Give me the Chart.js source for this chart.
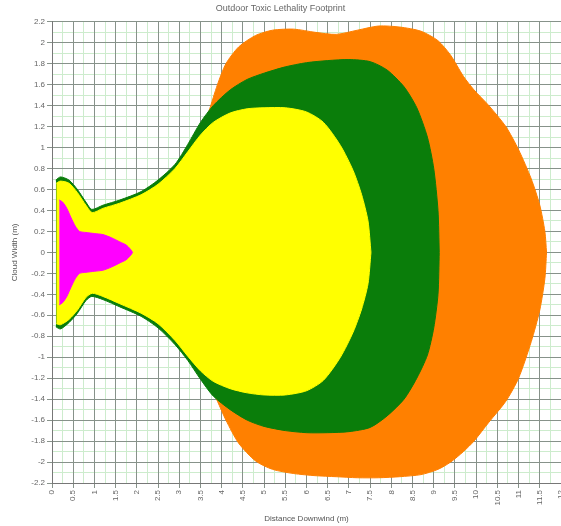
<!DOCTYPE html>
<html>
<head>
<meta charset="utf-8">
<script src="https://cdn.jsdelivr.net/npm/chart.js@4.4.0/dist/chart.umd.min.js"></script>
<style>
  html, body { margin: 0; padding: 0; background: #fff; overflow: hidden; }
  #wrap { width: 561px; height: 526px; }
</style>
</head>
<body>
<div id="wrap"><canvas id="chart" width="561" height="526"></canvas></div>
<script>
const chartTitle = "Outdoor Toxic Lethality Footprint";
const xTitle = "Distance Downwind (m)";
const yTitle = "Cloud Width (m)";

// tick values along each axis
const xTickValues = [0, 0.5, 1, 1.5, 2, 2.5, 3, 3.5, 4, 4.5, 5, 5.5, 6, 6.5, 7, 7.5, 8, 8.5, 9, 9.5, 10, 10.5, 11, 11.5, 12];
const yTickValues = [-2.2, -2, -1.8, -1.6, -1.4, -1.2, -1, -0.8, -0.6, -0.4, -0.2, 0, 0.2, 0.4, 0.6, 0.8, 1, 1.2, 1.4, 1.6, 1.8, 2, 2.2];

// footprint zones: downwind distance, upper edge, lower edge
const magentaX = [0.17, 0.25, 0.35, 0.45, 0.55, 0.65, 0.8, 1.0, 1.2, 1.4, 1.6, 1.75, 1.85, 1.9];
const magentaUp = [0.5, 0.48, 0.42, 0.33, 0.25, 0.2, 0.19, 0.18, 0.17, 0.14, 0.1, 0.07, 0.03, 0];
const magentaLo = [-0.5, -0.48, -0.42, -0.33, -0.25, -0.2, -0.19, -0.18, -0.17, -0.14, -0.1, -0.07, -0.03, 0];

const yellowX = [0.1, 0.2, 0.4, 0.6, 0.8, 0.95, 1.2, 1.6, 2.1, 2.5, 2.9, 3.2, 3.5, 3.8, 4.2, 4.6, 5.0, 5.5, 6.0, 6.4, 6.8, 7.1, 7.3, 7.45, 7.52];
const yellowUp = [0.66, 0.68, 0.66, 0.57, 0.45, 0.38, 0.42, 0.47, 0.55, 0.65, 0.8, 0.96, 1.12, 1.24, 1.33, 1.37, 1.38, 1.38, 1.34, 1.24, 1.02, 0.78, 0.55, 0.3, 0];
const yellowLo = [-0.68, -0.69, -0.64, -0.55, -0.43, -0.39, -0.42, -0.49, -0.58, -0.68, -0.84, -0.99, -1.13, -1.23, -1.3, -1.34, -1.36, -1.36, -1.32, -1.22, -1.0, -0.76, -0.54, -0.3, 0];

const greenX = [0.09, 0.2, 0.4, 0.6, 0.8, 0.94, 1.2, 1.6, 2.1, 2.5, 2.9, 3.2, 3.5, 3.8, 4.2, 4.6, 5.0, 5.5, 6.0, 6.5, 7.0, 7.5, 7.9, 8.3, 8.6, 8.85, 9.0, 9.1, 9.13];
const greenUp = [0.69, 0.72, 0.69, 0.6, 0.48, 0.41, 0.45, 0.5, 0.58, 0.69, 0.84, 1.03, 1.24, 1.4, 1.55, 1.65, 1.71, 1.77, 1.81, 1.83, 1.84, 1.82, 1.74, 1.58, 1.38, 1.1, 0.8, 0.4, 0];
const greenLo = [-0.71, -0.73, -0.67, -0.58, -0.46, -0.42, -0.45, -0.52, -0.61, -0.72, -0.88, -1.03, -1.21, -1.37, -1.5, -1.6, -1.66, -1.7, -1.72, -1.72, -1.71, -1.67, -1.56, -1.4, -1.2, -0.98, -0.72, -0.4, 0];

const orangeX = [3.4, 3.7, 3.9, 4.1, 4.4, 4.8, 5.2, 5.7, 6.2, 6.7, 7.2, 7.7, 8.2, 8.7, 9.1, 9.4, 9.7, 9.95, 10.3, 10.7, 11.0, 11.3, 11.5, 11.62, 11.66];
const orangeUp = [1.05, 1.35, 1.6, 1.8, 1.96, 2.07, 2.12, 2.13, 2.1, 2.08, 2.12, 2.16, 2.15, 2.11, 2.02, 1.88, 1.68, 1.55, 1.4, 1.2, 0.98, 0.7, 0.45, 0.2, 0];
const orangeLo = [-1.05, -1.25, -1.42, -1.6, -1.82, -1.99, -2.07, -2.11, -2.13, -2.14, -2.15, -2.15, -2.14, -2.12, -2.07, -2.0, -1.9, -1.8, -1.62, -1.42, -1.2, -0.85, -0.55, -0.25, 0];

function zone(xs, up, lo, color) {
  const base = { backgroundColor: color, borderColor: color, borderWidth: 1, pointRadius: 0, tension: 0.25 };
  return [
    { ...base, data: xs.map((x, i) => ({ x, y: up[i] })), fill: "+1" },
    { ...base, data: xs.map((x, i) => ({ x, y: lo[i] })), fill: false },
  ];
}

// first dataset is drawn on top
const datasets = [
  ...zone(magentaX, magentaUp, magentaLo, "#ff00ff"),
  ...zone(yellowX, yellowUp, yellowLo, "#ffff00"),
  ...zone(greenX, greenUp, greenLo, "#0a7d0a"),
  ...zone(orangeX, orangeUp, orangeLo, "#ff8000"),
];

const fmt = v => String(Math.round(v * 10) / 10);
const axisFont = { family: "'Liberation Sans', Arial, sans-serif", size: 8 };

new Chart(document.getElementById("chart"), {
  type: "line",
  data: { datasets },
  options: {
    responsive: false,
    animation: false,
    layout: { padding: 0 },
    plugins: {
      legend: { display: false },
      tooltip: { enabled: false },
      title: {
        display: true,
        text: chartTitle,
        color: "#666",
        font: { family: axisFont.family, size: 9, weight: "normal" },
        padding: { top: 3, bottom: 8 },
      },
    },
    scales: {
      x: {
        type: "linear",
        min: 0,
        max: 12,
        afterBuildTicks: s => { s.ticks = xTickValues.map(value => ({ value })); },
        afterFit: s => { s.height = 43; s.paddingLeft = 0; s.paddingRight = 0; },
        ticks: { minRotation: 90, maxRotation: 90, autoSkip: false, color: "#666", font: axisFont, padding: 2, callback: fmt },
        grid: { color: "#87928a", lineWidth: 1, tickLength: 5 },
        border: { color: "#777" },
        title: { display: true, text: xTitle, color: "#555", font: axisFont, padding: { top: 0, bottom: 2 } },
      },
      y: {
        type: "linear",
        min: -2.2,
        max: 2.2,
        afterBuildTicks: s => { s.ticks = yTickValues.map(value => ({ value })); },
        afterFit: s => { s.width = 52; s.paddingTop = 0; s.paddingBottom = 0; },
        ticks: { autoSkip: false, color: "#666", font: axisFont, padding: 2, callback: fmt },
        grid: { color: "#87928a", lineWidth: 1, tickLength: 5 },
        border: { color: "#777" },
        title: { display: true, text: yTitle, color: "#555", font: axisFont, padding: { top: 10, bottom: 0 } },
      },
      xMinor: {
        type: "linear",
        position: "bottom",
        min: 0,
        max: 12,
        ticks: { display: false, stepSize: 0.25 },
        grid: { color: "#cdeccd", drawTicks: false, z: -2 },
        border: { display: false },
      },
      yMinor: {
        type: "linear",
        position: "left",
        min: -2.2,
        max: 2.2,
        ticks: { display: false, stepSize: 0.1 },
        grid: { color: "#cdeccd", drawTicks: false, z: -2 },
        border: { display: false },
      },
    },
  },
});
</script>
</body>
</html>
